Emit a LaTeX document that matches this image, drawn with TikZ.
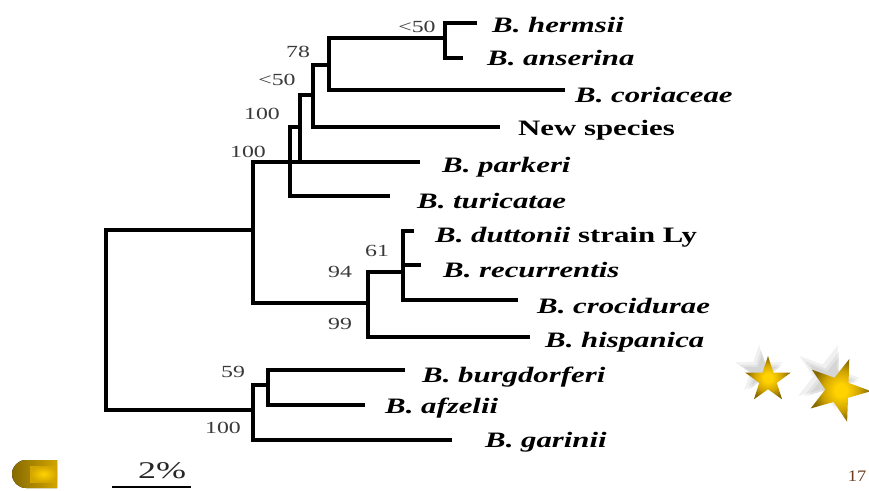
\documentclass[tikz,border=0pt]{standalone}
\usepackage{fontspec}
\setmainfont{Liberation Serif}
\usetikzlibrary{shapes.geometric}
\definecolor{goldA}{HTML}{FFD200}
\definecolor{goldB}{HTML}{D2A500}
\definecolor{goldC}{HTML}{866A00}
\definecolor{brownnum}{HTML}{6B3A1A}
\definecolor{bsgray}{HTML}{3A3A3A}
\pgfdeclareradialshading{goldstar}{\pgfpoint{0bp}{0bp}}{color(0bp)=(goldA); color(5bp)=(goldA); color(15bp)=(goldB); color(24bp)=(goldC); color(50bp)=(goldC)}
\newcommand{\wid}[1]{\scalebox{1.4}[1]{#1}}
\tikzset{
  br/.style={line width=3.3pt, line join=miter},
  bs/.style={font=\fontsize{17}{18}\selectfont, text=bsgray, inner sep=0pt},
  spn/.style={anchor=base west, inner sep=0pt, font=\fontsize{22}{24}\selectfont\bfseries\itshape},
  starshadow/.style={shape=star, star points=5, star point ratio=2.6, fill=black!75, opacity=0.08, inner sep=0pt, draw=none},
  goldstarsh/.style={shape=star, star points=5, star point ratio=2.6, shading=goldstar, inner sep=0pt, draw=none},
}
\begin{document}
\begin{tikzpicture}[x=1pt,y=-1pt]
\useasboundingbox (0,0) rectangle (869,490);
\fill[white] (0,0) rectangle (869,490);

% internal nodes (junction points)
\coordinate (nR) at (106,320);
\coordinate (nA) at (253,230);
\coordinate (nB) at (290,162);
\coordinate (nC) at (300,127);
\coordinate (nD) at (313,95);
\coordinate (nE) at (329,65);
\coordinate (nF) at (445,38);
\coordinate (nG) at (368,303);
\coordinate (nH) at (403,272);
\coordinate (nI) at (253,410);
\coordinate (nJ) at (268,385);
% leaf ends
\coordinate (lHer) at (477,23);
\coordinate (lAns) at (463,58);
\coordinate (lCor) at (565,90);
\coordinate (lNew) at (500,127);
\coordinate (lPar) at (420,162);
\coordinate (lTur) at (390,196);
\coordinate (lDut) at (414,231);
\coordinate (lRec) at (421,265);
\coordinate (lCro) at (518,300);
\coordinate (lHis) at (530,337);
\coordinate (lBur) at (405,370);
\coordinate (lAfz) at (365,405);
\coordinate (lGar) at (452,440);

% branches
\draw[br] (nA) -| (nR) |- (nI);
\draw[br] (nB) -| (nA) |- (nG);
\draw[br] (nC) -| (nB) |- (lTur);
\draw[br] (nD) -| (nC) |- (lPar);
\draw[br] (nB) -- (nC |- nB);
\draw[br] (nE) -| (nD) |- (lNew);
\draw[br] (nF) -| (nE) |- (lCor);
\draw[br] (lHer) -| (nF) |- (lAns);
\draw[br] (nH) -| (nG) |- (lHis);
\draw[br] (lDut) -| (nH) |- (lCro);
\draw[br] (nH |- lRec) -- (lRec);
\draw[br] (nJ) -| (nI) |- (lGar);
\draw[br] (lBur) -| (nJ) |- (lAfz);

% bootstrap values
\node[bs] (b1) at (417,27) {\scalebox{1.4}[1]{<50}};
\node[bs] (b2) at (298,52) {\scalebox{1.4}[1]{78}};
\node[bs] (b3) at (277,80) {\scalebox{1.4}[1]{<50}};
\node[bs] (b4) at (262,114) {\scalebox{1.4}[1]{100}};
\node[bs] (b5) at (248,152) {\scalebox{1.4}[1]{100}};
\node[bs] (b6) at (377,251) {\scalebox{1.4}[1]{61}};
\node[bs] (b7) at (340,272) {\scalebox{1.4}[1]{94}};
\node[bs] (b8) at (340,324) {\scalebox{1.4}[1]{99}};
\node[bs] (b9) at (233,372) {\scalebox{1.4}[1]{59}};
\node[bs] (b10) at (223,428) {\scalebox{1.4}[1]{100}};

% taxa
\node[spn] (tHer) at (492,32) {\wid{B. hermsii}};
\node[spn] (tAns) at (487,65) {\wid{B. anserina}};
\node[spn] (tCor) at (575,102) {\wid{B. coriaceae}};
\node[spn] (tNew) at (518,135) {\wid{\upshape New species}};
\node[spn] (tPar) at (442,172) {\wid{B. parkeri}};
\node[spn] (tTur) at (417,208) {\wid{B. turicatae}};
\node[spn] (tDut) at (435,242) {\wid{B. duttonii \upshape strain Ly}};
\node[spn] (tRec) at (443,277) {\wid{B. recurrentis}};
\node[spn] (tCro) at (537,313) {\wid{B. crocidurae}};
\node[spn] (tHis) at (545,347) {\wid{B. hispanica}};
\node[spn] (tBur) at (422,382) {\wid{B. burgdorferi}};
\node[spn] (tAfz) at (385,413) {\wid{B. afzelii}};
\node[spn] (tGar) at (485,447) {\wid{B. garinii}};

% scale bar
\coordinate (sbL) at (112,487);
\coordinate (sbR) at (191,487);
\draw[line width=2.5pt] (sbL) -- (sbR);
\node[inner sep=0pt, font=\fontsize{24}{26}\selectfont, text=black!85] (sbT) at (162,471) {\scalebox{1.5}[1]{2\%}};

% bullet
\fill[left color=goldC, right color=goldB] (57,460) -- (26,460) arc[start angle=90, end angle=270, radius=14pt] -- (57,488) -- cycle;
\fill[inner color=goldA, outer color=goldB] (30,466) rectangle (57,482);

% stars with soft shadows
\foreach \i/\dx/\dy/\s in {1/-7/-8/44, 2/-9/-10/50, 3/-6/-7/38} {
  \node[starshadow, minimum size=\s] (ssa\i) at (768+\dx,380+\dy) {};
  \node[starshadow, minimum size=\s*1.35, rotate=-20] (ssb\i) at (838+\dx*1.3,390+\dy*1.3) {};
}
\node[goldstarsh, minimum size=48] (st1) at (768,380) {};
\node[goldstarsh, minimum size=66, rotate=-20] (st2) at (838,390) {};

% page number
\node[inner sep=0pt, text=brownnum, font=\fontsize{16}{18}\selectfont] (pg) at (857,476) {\scalebox{1.15}[1]{17}};
\end{tikzpicture}
\end{document}
